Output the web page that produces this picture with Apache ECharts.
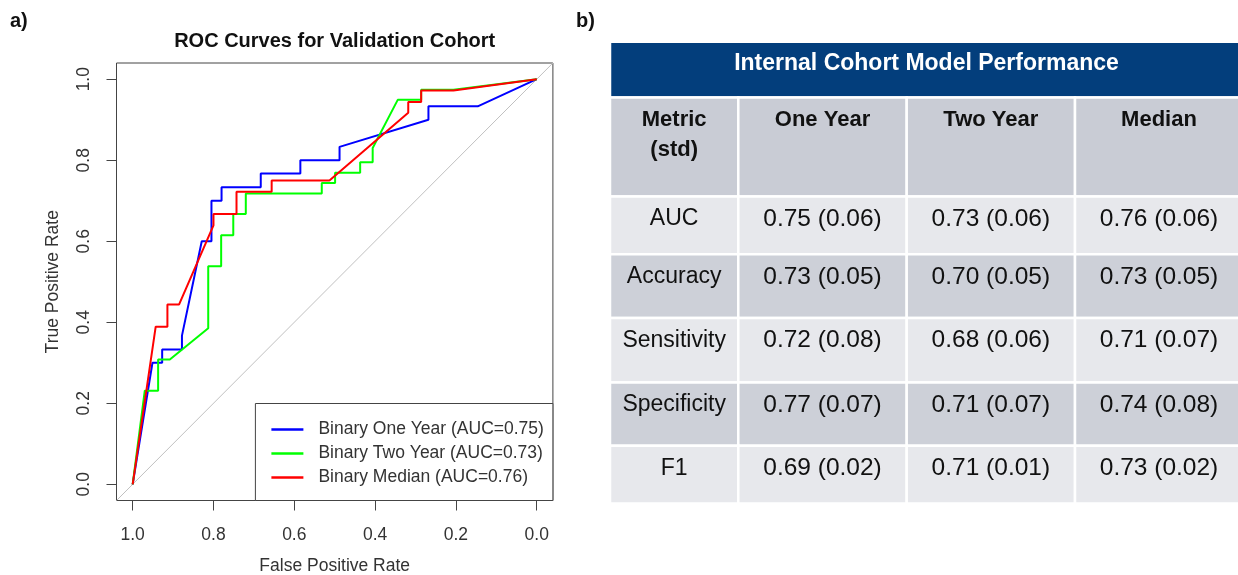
<!DOCTYPE html>
<html>
<head>
<meta charset="utf-8">
<script src="https://cdn.jsdelivr.net/npm/echarts@6/dist/echarts.min.js"></script>
<style>
html, body { margin: 0; padding: 0; background: #ffffff; }
#chart { width: 1238px; height: 575px; }
</style>
</head>
<body>
<div id="chart"></div>
<script>
// ---------------- DATA ----------------
const panelLabels = ['a)', 'b)'];
const rocTitle = 'ROC Curves for Validation Cohort';
const xAxisTitle = 'False Positive Rate';
const yAxisTitle = 'True Positive Rate';
const axisTicks = [0, 0.2, 0.4, 0.6, 0.8, 1.0];

const curveLabels = ['One Year', 'Two Year', 'Median'];
const curveAUC = [0.75, 0.73, 0.76];

// x = specificity (axis runs 1.0 -> 0.0), y = true positive rate
const specOneYear = [0, 0.146, 0.268, 0.268, 0.488, 0.488, 0.585, 0.585, 0.683, 0.683, 0.780, 0.780, 0.805, 0.805, 0.829, 0.878, 0.878, 0.927, 0.927, 0.951, 1];
const sensOneYear = [1, 0.933, 0.933, 0.900, 0.833, 0.800, 0.800, 0.767, 0.767, 0.733, 0.733, 0.700, 0.700, 0.600, 0.600, 0.367, 0.333, 0.333, 0.300, 0.300, 0];

const specTwoYear = [0, 0.206, 0.286, 0.286, 0.344, 0.406, 0.406, 0.437, 0.437, 0.499, 0.499, 0.532, 0.532, 0.720, 0.720, 0.751, 0.751, 0.781, 0.781, 0.813, 0.813, 0.908, 0.937, 0.937, 0.970, 1];
const sensTwoYear = [1, 0.974, 0.974, 0.949, 0.949, 0.830, 0.795, 0.795, 0.769, 0.769, 0.744, 0.744, 0.718, 0.718, 0.667, 0.667, 0.615, 0.615, 0.538, 0.538, 0.385, 0.308, 0.308, 0.231, 0.231, 0];

const specMedian = [0, 0.206, 0.286, 0.286, 0.318, 0.318, 0.513, 0.656, 0.656, 0.743, 0.743, 0.800, 0.800, 0.885, 0.914, 0.914, 0.943, 1];
const sensMedian = [1, 0.972, 0.972, 0.944, 0.944, 0.917, 0.750, 0.750, 0.722, 0.722, 0.667, 0.667, 0.639, 0.444, 0.444, 0.389, 0.389, 0];

const tableTitle = 'Internal Cohort Model Performance';
const firstHeader = 'Metric\n(std)';
const tableColumns = ['One Year', 'Two Year', 'Median'];
const metrics = ['AUC', 'Accuracy', 'Sensitivity', 'Specificity', 'F1'];
const oneYearMean = [0.75, 0.73, 0.72, 0.77, 0.69];
const oneYearStd  = [0.06, 0.05, 0.08, 0.07, 0.02];
const twoYearMean = [0.73, 0.70, 0.68, 0.71, 0.71];
const twoYearStd  = [0.06, 0.05, 0.06, 0.07, 0.01];
const medianMean  = [0.76, 0.73, 0.71, 0.74, 0.73];
const medianStd   = [0.06, 0.05, 0.07, 0.08, 0.02];

// ---------------- LAYOUT / STYLE ----------------
const FONT = "'Liberation Sans', Arial, Helvetica, sans-serif";
const AXIS_FS = 17.5;
const AXIS_MIN = -0.04, AXIS_MAX = 1.04;
const PLOT = { left: 116.5, top: 63, width: 436.4, height: 437.5 };
const curveColors = ['#0000ff', '#00ff00', '#ff0000'];

const TABLE = { left: 610, top: 41.7, width: 633, height: 461.8 };
const COL_EDGES = [0, 128.3, 296.7, 465, 633];
const ROW_EDGES = [0, 55.8, 154.8, 212.6, 276.3, 340.8, 404.1, 461.8];
const TITLE_BG = '#033e7c', HEADER_BG = '#c9ccd5', LIGHT_BG = '#e7e8ec', DARK_BG = '#cdd0d8';

const curveSpecs = [specOneYear, specTwoYear, specMedian];
const curveSens = [sensOneYear, sensTwoYear, sensMedian];
const seriesNames = curveLabels.map((l, i) => 'Binary ' + l + ' (AUC=' + curveAUC[i].toFixed(2) + ')');

// ---------------- TABLE CELLS ----------------
const valueCols = [[oneYearMean, oneYearStd], [twoYearMean, twoYearStd], [medianMean, medianStd]];
const cells = [];
cells.push({ c0: 0, c1: 4, r: 0, text: tableTitle, bg: TITLE_BG, color: '#ffffff', font: 'bold 23px ' + FONT, dy: 21.5 });
cells.push({ c0: 0, c1: 1, r: 1, text: firstHeader, bg: HEADER_BG, color: '#111', font: 'bold 22px ' + FONT, dy: 22.5 });
tableColumns.forEach((t, j) => cells.push({ c0: j + 1, c1: j + 2, r: 1, text: t, bg: HEADER_BG, color: '#111', font: 'bold 22px ' + FONT, dy: 22.5 }));
metrics.forEach((m, i) => {
  const bg = i % 2 === 0 ? LIGHT_BG : DARK_BG;
  cells.push({ c0: 0, c1: 1, r: i + 2, text: m, bg, color: '#111', font: '23px ' + FONT, dy: 22.5 });
  valueCols.forEach((vc, j) => {
    const txt = vc[0][i].toFixed(2) + ' (' + vc[1][i].toFixed(2) + ')';
    cells.push({ c0: j + 1, c1: j + 2, r: i + 2, text: txt, bg, color: '#111', font: '24.5px ' + FONT, dy: 22.5 });
  });
});

function renderCell(params, api) {
  const c = cells[params.dataIndex];
  const p0 = api.coord([COL_EDGES[c.c0], ROW_EDGES[c.r]]);
  const p1 = api.coord([COL_EDGES[c.c1], ROW_EDGES[c.r + 1]]);
  const lh = 30;
  return {
    type: 'group',
    children: [
      { type: 'rect', shape: { x: p0[0], y: p0[1], width: p1[0] - p0[0], height: p1[1] - p0[1] },
        style: { fill: c.bg, stroke: '#ffffff', lineWidth: 2.5 } },
      { type: 'text',
        style: { text: c.text, x: (p0[0] + p1[0]) / 2, y: p0[1] + c.dy - lh / 2,
                 align: 'center', verticalAlign: 'top', lineHeight: lh, font: c.font, fill: c.color } }
    ]
  };
}

// ---------------- CHART ----------------
const chart = echarts.init(document.getElementById('chart'), null, { renderer: 'canvas' });

const lineSeries = seriesNames.map((name, k) => ({
  type: 'line', name,
  xAxisIndex: 0, yAxisIndex: 0,
  data: curveSpecs[k].map((s, i) => [s, curveSens[k][i]]),
  symbol: 'none', showSymbol: false,
  color: curveColors[k],
  lineStyle: { color: curveColors[k], width: 2 },
  itemStyle: { color: curveColors[k] },
  z: 3 + k, animation: false, silent: true
}));

const option = {
  backgroundColor: '#ffffff',
  animation: false,
  grid: [
    { left: PLOT.left, top: PLOT.top, width: PLOT.width, height: PLOT.height,
      outerBoundsMode: 'none', containLabel: false,
      show: true, borderColor: '#444', borderWidth: 1, backgroundColor: 'transparent' },
    { left: TABLE.left, top: TABLE.top, width: TABLE.width, height: TABLE.height,
      outerBoundsMode: 'none', containLabel: false, show: false }
  ],
  xAxis: [
    { type: 'value', gridIndex: 0, min: AXIS_MIN, max: AXIS_MAX, inverse: true,
      axisLine: { show: false, onZero: false },
      splitLine: { show: false },
      axisTick: { show: true, customValues: axisTicks, length: 10, lineStyle: { color: '#444', width: 1 } },
      axisLabel: { customValues: axisTicks, formatter: v => v.toFixed(1), fontSize: AXIS_FS, color: '#333', fontFamily: FONT, margin: 26 },
      name: xAxisTitle, nameLocation: 'middle', nameGap: 57,
      nameTextStyle: { fontSize: AXIS_FS, color: '#333', fontFamily: FONT } },
    { type: 'value', gridIndex: 1, min: 0, max: TABLE.width, show: false }
  ],
  yAxis: [
    { type: 'value', gridIndex: 0, min: AXIS_MIN, max: AXIS_MAX,
      axisLine: { show: false, onZero: false },
      splitLine: { show: false },
      axisTick: { show: true, customValues: axisTicks, length: 10, lineStyle: { color: '#444', width: 1 } },
      axisLabel: { customValues: axisTicks, formatter: v => v.toFixed(1), fontSize: AXIS_FS, color: '#333', fontFamily: FONT, margin: 23, rotate: 90 },
      name: yAxisTitle, nameLocation: 'middle', nameGap: 54, nameRotate: 90,
      nameTextStyle: { fontSize: AXIS_FS, color: '#333', fontFamily: FONT } },
    { type: 'value', gridIndex: 1, min: 0, max: TABLE.height, inverse: true, show: false }
  ],
  legend: {
    data: seriesNames.map(n => ({ name: n, icon: 'rect' })),
    orient: 'vertical',
    right: 1238 - (PLOT.left + PLOT.width),
    bottom: 575 - (PLOT.top + PLOT.height),
    backgroundColor: '#ffffff', borderColor: '#444', borderWidth: 1, borderRadius: 0,
    padding: [16, 9, 13, 16],
    itemWidth: 32, itemHeight: 2.5, itemGap: 4,
    textStyle: { fontSize: AXIS_FS, color: '#333', fontFamily: FONT, lineHeight: 20, padding: [0, 0, 0, 10] },
    selectedMode: false
  },
  graphic: [
    { type: 'text', x: 10, y: 21, style: { text: panelLabels[0], font: 'bold 20px ' + FONT, fill: '#111', align: 'left', verticalAlign: 'middle' } },
    { type: 'text', x: 576, y: 21, style: { text: panelLabels[1], font: 'bold 20px ' + FONT, fill: '#111', align: 'left', verticalAlign: 'middle' } },
    { type: 'text', x: PLOT.left + PLOT.width / 2, y: 41.5, style: { text: rocTitle, font: 'bold 20px ' + FONT, fill: '#111', align: 'center', verticalAlign: 'middle' } }
  ],
  series: [
    { type: 'line', name: 'reference', xAxisIndex: 0, yAxisIndex: 0,
      data: [[AXIS_MAX, AXIS_MIN], [AXIS_MIN, AXIS_MAX]],
      symbol: 'none', lineStyle: { color: '#c0c0c0', width: 1 }, z: 2, silent: true, animation: false },
    ...lineSeries,
    { type: 'custom', name: 'table', xAxisIndex: 1, yAxisIndex: 1,
      data: cells.map(c => [c.c0, c.r]),
      renderItem: renderCell, clip: false, silent: true, animation: false }
  ]
};
chart.setOption(option);
</script>
</body>
</html>
